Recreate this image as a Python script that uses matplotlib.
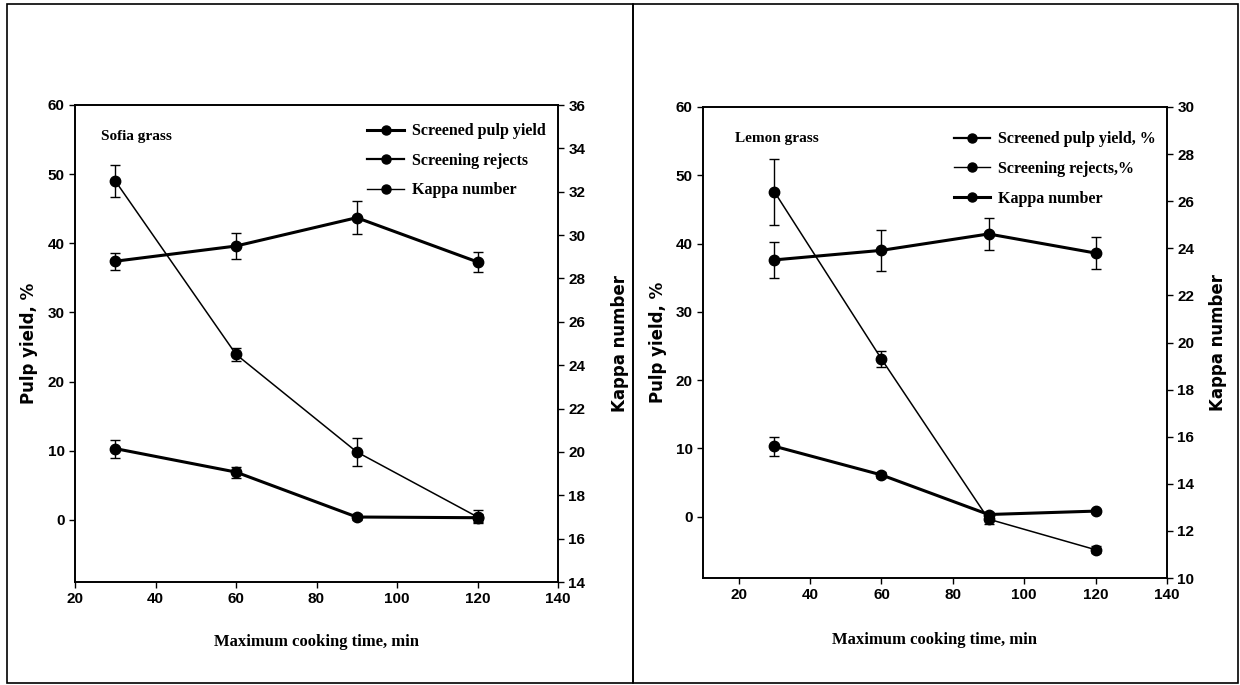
import matplotlib
matplotlib.use("Agg")
import matplotlib.pyplot as plt
from matplotlib.lines import Line2D
from matplotlib.patches import Rectangle

# cooking time, min
time_min = [30, 60, 90, 120]

# Sofia grass
sofia_yield = [37.4, 39.6, 43.7, 37.3]
sofia_yield_err = [1.2, 1.9, 2.4, 1.4]
sofia_rejects = [10.3, 6.9, 0.4, 0.3]
sofia_rejects_err = [1.3, 0.8, 0.4, 0.6]
sofia_kappa = [32.5, 24.5, 20.0, 17.0]
sofia_kappa_err = [0.75, 0.3, 0.65, 0.3]

# Lemon grass
lemon_yield = [37.6, 39.0, 41.4, 38.6]
lemon_yield_err = [2.6, 3.0, 2.4, 2.3]
lemon_rejects = [10.3, 6.1, 0.3, 0.8]
lemon_rejects_err = [1.4, 0.4, 0.4, 0.3]
lemon_kappa = [26.4, 19.3, 12.5, 11.2]
lemon_kappa_err = [1.4, 0.35, 0.2, 0.15]

sofia_labels = ["Screened pulp yield", "Screening rejects", "Kappa number"]
lemon_labels = ["Screened pulp yield, %", "Screening rejects,%", "Kappa number"]

TICK_FONT = dict(family=["Liberation Sans Narrow", "Liberation Sans", "DejaVu Sans"],
                 weight="bold", size=11)
SERIF = ["Liberation Serif", "DejaVu Serif"]


def draw_panel(ax, name, yld, yld_err, rej, rej_err, kap, kap_err,
               labels, legend_lw, xlim, kap_lim, legend_pos, name_pos,
               kap_label_x, xlabel_y):
    ax2 = ax.twinx()
    eb = dict(fmt="-o", color="black", ms=7.5, capsize=3.5, elinewidth=1, capthick=1)
    ax.errorbar(time_min, yld, yerr=yld_err, lw=2.2, **eb)
    ax.errorbar(time_min, rej, yerr=rej_err, lw=2.2, **eb)
    ax2.errorbar(time_min, kap, yerr=kap_err, lw=1.1, **eb)

    ax.set_xlim(*xlim)
    ax.set_ylim(-9, 60)
    ax.set_xticks(range(20, 141, 20))
    ax.set_yticks(range(0, 61, 10))
    ax2.set_ylim(*kap_lim)
    ax2.set_yticks(range(kap_lim[0], kap_lim[1] + 1, 2))

    for a in (ax, ax2):
        a.tick_params(direction="out", length=4, width=1)
        for lab in a.get_xticklabels() + a.get_yticklabels():
            lab.set_fontproperties(matplotlib.font_manager.FontProperties(**TICK_FONT))
        for s in a.spines.values():
            s.set_linewidth(1.2)

    ax.set_xlabel("Maximum cooking time, min", family=SERIF, weight="bold", size=12)
    ax.xaxis.set_label_coords(0.5, xlabel_y)
    ax.set_ylabel("Pulp yield, %", family="DejaVu Sans", weight="bold", size=12)
    ax.yaxis.set_label_coords(-0.077, 0.5)
    ax2.set_ylabel("Kappa number", family="DejaVu Sans", weight="bold", size=12)
    ax2.yaxis.set_label_coords(kap_label_x, 0.5)

    ax.text(name_pos[0], name_pos[1], name, transform=ax.transAxes,
            family=SERIF, weight="bold", size=11, va="center")

    handles = [Line2D([], [], color="black", lw=w, marker="o", ms=6.5) for w in legend_lw]
    ax2.legend(handles, labels, loc="upper left", bbox_to_anchor=legend_pos,
               frameon=False, borderpad=0, borderaxespad=0, handlelength=2.3,
               handletextpad=0.5, labelspacing=0.85,
               prop=dict(family=SERIF, weight="bold", size=11.5))


fig = plt.figure(figsize=(12.4, 6.85), dpi=100)

ax_left = fig.add_axes([75 / 1240, 1 - 582 / 685, 483 / 1240, 477 / 685])
draw_panel(ax_left, "Sofia grass", sofia_yield, sofia_yield_err, sofia_rejects,
           sofia_rejects_err, sofia_kappa, sofia_kappa_err, sofia_labels,
           [2.2, 1.6, 1.0], (20, 140), (14, 36), (0.605, 0.962), (0.054, 0.933),
           1.11, -0.11)

ax_right = fig.add_axes([703 / 1240, 1 - 578 / 685, 464 / 1240, 471 / 685])
draw_panel(ax_right, "Lemon grass", lemon_yield, lemon_yield_err, lemon_rejects,
           lemon_rejects_err, lemon_kappa, lemon_kappa_err, lemon_labels,
           [1.6, 1.0, 2.2], (10, 140), (10, 30), (0.54, 0.948), (0.069, 0.934),
           1.09, -0.115)

# panel frames
for x0, x1 in [(7, 633), (633, 1238)]:
    fig.add_artist(Rectangle((x0 / 1240, 2 / 685), (x1 - x0) / 1240, 679 / 685,
                             transform=fig.transFigure, fill=False, lw=1.2,
                             edgecolor="black"))

fig.savefig("out.png", dpi=100, facecolor="white")
